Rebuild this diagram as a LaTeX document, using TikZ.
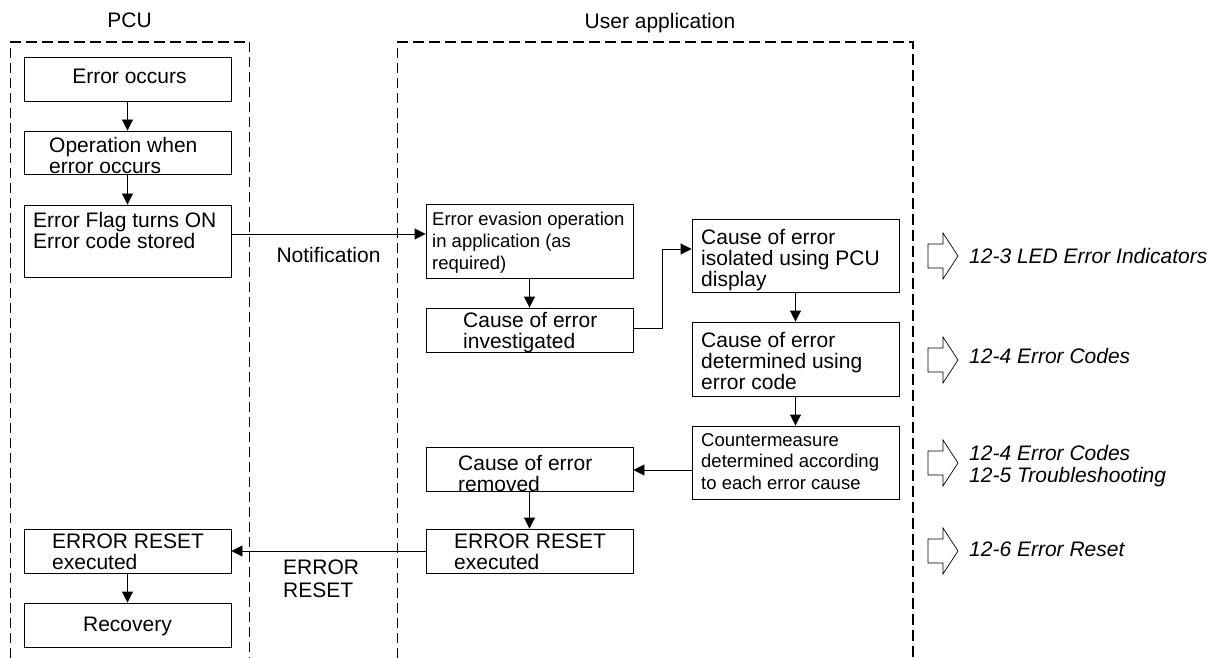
\documentclass[tikz,border=0pt]{standalone}
\usepackage{fontspec}
\setmainfont{Liberation Sans}
\usetikzlibrary{arrows.meta,calc}
\tikzset{
  box/.style={draw, line width=0.9pt, minimum width=207pt, inner sep=0pt},
  txt/.style={inner sep=0pt, align=left, font=\fontsize{21}{21}\selectfont},
  stxt/.style={inner sep=0pt, align=left, font=\fontsize{18.5}{21.7}\selectfont},
  reftxt/.style={inner sep=0pt, anchor=base west, font=\fontsize{21}{21}\selectfont\itshape},
  arr/.style={line width=0.9pt, -{Triangle[width=11pt,length=11pt]}},
  framethin/.style={line width=0.8pt, dash pattern=on 10pt off 5pt},
  framethick/.style={line width=1.7pt, dash pattern=on 11pt off 5pt},
  openarrow/.style={draw, line width=0.7pt, fill=white},
}
\begin{document}
\begin{tikzpicture}[x=1pt,y=-1pt]
\useasboundingbox (0,0) rectangle (1211,658);

% frames
\draw[framethin] (10,658) -- (10,42);
\draw[framethin] (249,42) -- (249,658);
\draw[framethick] (10,42) -- (249,42);
\draw[framethin] (397,658) -- (397,42);
\draw[framethick] (397,42) -- (913,42) -- (913,658);

\node[txt, anchor=north] (lpcu) at (129.5,13) {PCU};
\node[txt, anchor=north] (luser) at (660,13) {User application};

% PCU boxes
\node[box, minimum height=44pt] (b1) at (127.5,79) {};
\node[txt, anchor=north] (t1) at (129.5,69) {Error occurs};
\node[box, minimum height=43pt] (b2) at (127.5,152.5) {};
\node[txt, anchor=north west] (t2) at (49,137) {Operation when\\error occurs};
\node[box, minimum height=72pt] (b3) at (127.5,241) {};
\node[txt, anchor=north west] (t3) at (33,212) {Error Flag turns ON\\Error code stored};
\node[box, minimum height=44pt] (b4) at (127.5,551) {};
\node[txt, anchor=north west] (t4) at (52,534) {ERROR RESET\\executed};
\node[box, minimum height=44pt] (b5) at (127.5,625) {};
\node[txt, anchor=north] (t5) at (127.5,617) {Recovery};

% User application boxes
\node[box, minimum height=74pt] (u1) at (529.5,241) {};
\node[stxt, anchor=north west] (s1) at (432,212) {Error evasion operation\\in application (as\\required)};
\node[box, minimum height=44pt] (u2) at (529.5,330) {};
\node[txt, anchor=north west] (s2) at (463,312) {Cause of error\\investigated};
\node[box, minimum height=73pt] (u3) at (795.5,255.5) {};
\node[txt, anchor=north west] (s3) at (701,229) {Cause of error\\isolated using PCU\\display};
\node[box, minimum height=74pt] (u4) at (795.5,359) {};
\node[txt, anchor=north west] (s4) at (701,332) {Cause of error\\determined using\\error code};
\node[box, minimum height=73pt] (u5) at (795.5,462.5) {};
\node[stxt, anchor=north west] (s5) at (701,433) {Countermeasure\\determined according\\to each error cause};
\node[box, minimum height=44pt] (u6) at (529.5,469) {};
\node[txt, anchor=north west] (s6) at (458,455) {Cause of error\\removed};
\node[box, minimum height=44pt] (u7) at (529.5,551) {};
\node[txt, anchor=north west] (s7) at (454,534) {ERROR RESET\\executed};

% connectors
\draw[arr] (b1) -- (b2);
\draw[arr] (b2) -- (b3);
\draw[arr] ([yshift=7pt]b3.east) -- ([yshift=7pt]u1.west);
\node[txt, anchor=north] (lnot) at (328.5,247) {Notification};
\draw[arr] (u1) -- (u2);
\draw[arr] ([yshift=2pt]u2.east) -- ++(29,0) |- ([yshift=6.5pt]u3.west);
\draw[arr] (u3) -- (u4);
\draw[arr] (u4) -- (u5);
\coordinate (c1) at ([yshift=-7.5pt]u5.west);
\draw[arr] (c1) -- (c1 -| u6.east);
\draw[arr] (u6) -- (u7);
\draw[arr] (u7.west) -- (b4.east);
\draw[arr] (b4) -- (b5);
\node[txt, anchor=north west, font=\fontsize{21}{23}\selectfont] (lreset) at (283,560) {ERROR\\RESET};

% reference arrows
\foreach \cy/\nm in {256/r1,360/r2,463/r3,551/r4}{
  \draw[openarrow] (928,\cy-12) -- (943,\cy-12) -- (943,\cy-23) -- (958,\cy)
     -- (943,\cy+23) -- (943,\cy+12) -- (928,\cy+12) -- cycle;
}
\node[reftxt] (ref1) at (969,263) {12-3 LED Error Indicators};
\node[reftxt] (ref2) at (969,363) {12-4 Error Codes};
\node[reftxt] (ref3) at (969,460) {12-4 Error Codes};
\node[reftxt] (ref4) at (969,482) {12-5 Troubleshooting};
\node[reftxt] (ref5) at (969,556) {12-6 Error Reset};
\end{tikzpicture}
\end{document}
